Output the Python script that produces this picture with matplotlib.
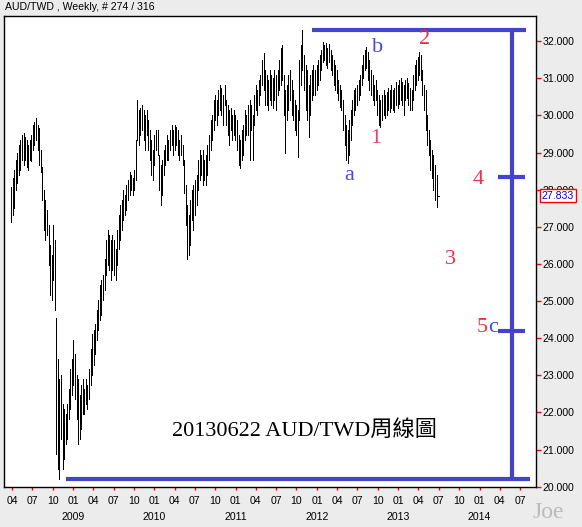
#AUD/TWD weekly bar chart with wave count marks

import pandas as pd
import numpy as np
import matplotlib
matplotlib.use('Agg')
import matplotlib.pyplot as plt
import matplotlib.transforms as mtransforms

# weekly bars, first week ending 2008-03-28, last 2013-06-21
first_week = '2008-03-28'
n_weeks = 274

highs = [
    28.08, 28.32, 28.54, 28.81, 29.00, 29.21, 29.34, 29.48, 29.53, 29.42,
    29.34, 29.21, 29.34, 29.48, 29.75, 29.83, 29.94, 29.75, 29.67, 29.08,
    28.62, 28.00, 27.73, 27.46, 27.06, 26.52, 26.25, 27.06, 26.65, 24.55,
    23.43, 22.89, 23.02, 22.22, 22.08, 21.95, 22.22, 22.62, 23.16, 23.43,
    23.96, 23.56, 23.02, 22.89, 22.48, 22.75, 22.89, 22.62, 22.89, 22.75,
    23.16, 23.70, 24.10, 24.23, 24.37, 24.77, 25.04, 25.44, 25.58, 25.71,
    26.12, 26.65, 26.92, 26.79, 26.65, 26.79, 26.65, 26.39, 26.92, 27.33,
    27.60, 27.73, 28.00, 27.86, 28.14, 28.27, 28.49, 28.40, 28.32, 28.54,
    29.34, 30.42, 30.15, 30.20, 30.28, 30.15, 30.02, 30.15, 29.88, 29.61,
    29.34, 29.08, 29.48, 29.61, 29.61, 28.94, 28.67, 28.81, 29.08, 29.21,
    29.48, 29.34, 29.61, 29.75, 29.61, 29.75, 29.69, 29.61, 29.34, 29.48,
    29.21, 28.81, 28.14, 27.60, 27.33, 27.73, 28.00, 28.14, 28.27, 28.40,
    28.81, 29.08, 28.94, 29.08, 28.81, 28.94, 29.21, 29.48, 29.88, 30.02,
    30.42, 30.55, 30.42, 30.69, 30.82, 30.74, 30.55, 30.82, 30.42, 30.28,
    30.15, 30.20, 30.02, 30.15, 30.02, 29.88, 29.48, 29.34, 29.61, 29.75,
    30.15, 30.02, 30.28, 30.42, 30.28, 30.02, 30.55, 30.82, 30.69, 30.96,
    31.09, 31.50, 31.69, 31.23, 31.09, 30.96, 31.23, 31.09, 31.01, 31.23,
    31.09, 31.23, 31.50, 31.82, 31.90, 31.09, 30.69, 30.82, 31.09, 31.23,
    30.96, 30.69, 30.42, 30.28, 30.15, 31.50, 31.90, 32.30, 31.63, 31.36,
    31.23, 30.82, 31.09, 31.23, 31.36, 31.23, 31.36, 31.50, 31.63, 31.77,
    31.98, 31.90, 31.95, 31.82, 31.93, 31.77, 31.63, 31.50, 31.36, 31.23,
    30.96, 30.82, 30.69, 30.42, 30.02, 29.75, 29.61, 29.88, 30.15, 30.42,
    30.69, 30.74, 30.82, 30.96, 31.09, 31.36, 31.63, 31.77, 31.85, 31.71,
    31.50, 31.23, 31.09, 30.82, 30.96, 30.69, 30.55, 30.42, 30.55, 30.69,
    30.55, 30.64, 30.74, 30.69, 30.82, 30.69, 30.74, 30.90, 30.82, 30.96,
    31.01, 30.90, 30.82, 30.96, 31.01, 30.88, 30.74, 30.69, 31.09, 31.36,
    31.50, 31.58, 31.71, 31.63, 31.23, 30.82, 30.69, 30.02, 29.61, 29.34,
    29.08, 28.94, 28.67, 28.40]

lows = [
    27.14, 27.33, 27.51, 28.00, 28.19, 28.40, 28.54, 28.81, 28.67, 28.81,
    28.62, 28.54, 28.81, 28.76, 29.08, 29.21, 29.34, 29.08, 28.67, 28.49,
    27.73, 26.92, 26.65, 26.79, 25.98, 25.17, 25.04, 25.58, 24.77, 20.87,
    20.47, 20.20, 21.27, 20.47, 20.74, 21.14, 21.27, 21.81, 22.08, 22.48,
    22.75, 22.35, 21.81, 21.14, 21.27, 21.54, 21.95, 21.95, 22.22, 22.08,
    22.35, 22.75, 23.02, 23.29, 23.56, 23.96, 24.23, 24.50, 24.63, 25.04,
    25.31, 25.71, 25.98, 25.85, 25.58, 25.85, 25.71, 25.58, 25.98, 26.39,
    26.65, 26.92, 27.19, 27.33, 27.46, 27.73, 27.86, 28.00, 27.86, 28.00,
    28.27, 29.34, 29.21, 29.48, 29.61, 29.34, 29.08, 29.48, 29.08, 28.81,
    28.40, 28.27, 28.67, 29.08, 28.94, 28.00, 27.60, 27.86, 28.40, 28.67,
    28.81, 28.81, 29.08, 29.21, 28.94, 29.08, 29.21, 28.94, 28.81, 28.94,
    28.67, 27.92, 27.06, 26.12, 26.25, 26.52, 27.19, 26.92, 27.33, 27.60,
    28.00, 28.27, 28.40, 28.14, 28.27, 28.14, 28.40, 28.81, 29.08, 29.34,
    29.61, 29.88, 29.75, 30.02, 30.15, 30.02, 29.75, 30.28, 29.75, 29.48,
    29.21, 29.61, 29.34, 29.48, 29.34, 29.08, 28.67, 28.59, 28.81, 28.94,
    29.34, 29.48, 29.48, 28.81, 29.61, 28.81, 29.75, 30.15, 30.02, 30.28,
    30.55, 30.82, 30.69, 30.28, 30.28, 30.15, 30.42, 30.28, 30.20, 30.42,
    30.15, 30.55, 30.69, 30.82, 30.96, 30.02, 29.00, 29.88, 30.15, 30.42,
    30.02, 29.88, 29.61, 29.48, 28.89, 29.88, 30.82, 31.23, 30.69, 30.15,
    29.88, 29.42, 30.02, 30.42, 30.55, 30.55, 30.69, 30.82, 30.96, 31.23,
    31.44, 31.50, 31.36, 31.28, 31.44, 31.23, 31.09, 30.82, 30.69, 30.61,
    30.42, 30.23, 30.15, 29.61, 29.21, 28.81, 28.73, 28.94, 29.34, 29.75,
    30.02, 30.15, 30.28, 30.42, 30.55, 30.82, 31.01, 31.23, 31.28, 30.96,
    30.69, 30.55, 30.42, 30.28, 30.42, 30.02, 29.75, 29.69, 29.88, 30.02,
    29.94, 30.02, 30.15, 30.10, 30.20, 30.15, 30.10, 30.28, 30.20, 30.31,
    30.42, 30.28, 30.02, 30.42, 30.47, 30.28, 30.15, 30.15, 30.42, 30.69,
    30.82, 30.96, 31.09, 30.96, 30.55, 30.15, 29.61, 29.21, 28.94, 28.54,
    28.32, 28.00, 27.73, 27.54]

last_close = 27.833

# wave lines (price levels and dates)
top_level = 32.29
bottom_level = 20.20
level_4 = 28.35
level_5c = 24.20
top_line_dates = ['2011-12-10', '2014-07-28']
bottom_line_dates = ['2008-11-30', '2014-08-15']
vert_line_date = '2014-05-24'
mark_dates = ['2014-03-24', '2014-07-24']

# wave labels: (text, date, price, colour)
wave_labels = [
    ('a', '2012-05-24', 28.38, '#4848d8'),
    ('b', '2012-10-01', 31.82, '#4848d8'),
    ('1', '2012-09-19', 29.37, '#e8407a'),
    ('2', '2013-04-30', 32.06, '#f03040'),
    ('4', '2013-12-24', 28.27, '#f03040'),
    ('3', '2013-08-21', 26.12, '#f03040'),
]
label_5c_date = '2014-02-07'
label_5c_price = 24.29

dates = pd.date_range(first_week, periods=n_weeks, freq='W-FRI')

W, H = 582, 527
fig = plt.figure(figsize=(W / 100, H / 100), dpi=100, facecolor='#ececec')
ax = fig.add_axes([4 / W, (H - 487) / H, 532 / W, 471 / H])
ax.set_facecolor('white')

ax.vlines(dates, lows, highs, color='black', linewidth=0.6, antialiased=False)
ax.hlines(last_close, dates[-1], dates[-1] + pd.Timedelta(days=9), color='black', linewidth=0.6,
          antialiased=False)

blue = '#4343cc'
lw = 3.0
ax.plot(pd.to_datetime(top_line_dates), [top_level, top_level], color=blue, lw=lw, solid_capstyle='butt')
ax.plot(pd.to_datetime(bottom_line_dates), [bottom_level, bottom_level], color=blue, lw=lw, solid_capstyle='butt')
ax.plot(pd.to_datetime([vert_line_date, vert_line_date]), [bottom_level, top_level], color=blue, lw=lw, solid_capstyle='butt')
ax.plot(pd.to_datetime(mark_dates), [level_4, level_4], color=blue, lw=lw, solid_capstyle='butt')
ax.plot(pd.to_datetime(mark_dates), [level_5c, level_5c], color=blue, lw=lw, solid_capstyle='butt')

serif = 'Liberation Serif'
for txt, d, p, c in wave_labels:
    ax.text(pd.Timestamp(d), p, txt, color=c, fontsize=16, family=serif, ha='center', va='center')
ax.text(pd.Timestamp(label_5c_date), label_5c_price, '5', color='#f03040', fontsize=16, family=serif,
        ha='right', va='center')
ax.text(pd.Timestamp(label_5c_date), label_5c_price, 'c', color='#4848d8', fontsize=16, family=serif,
        ha='left', va='center')

ax.text(pd.Timestamp('2010-03-21'), 21.50, '20130622 AUD/TWD周線圖', fontsize=16,
        family=[serif, 'Noto Sans CJK TC'], color='black', ha='left', va='center')

# axes limits
ax.set_xlim(pd.Timestamp('2008-02-25'), pd.Timestamp('2014-09-11'))
ax.set_ylim(19.99, 32.68)

for s in ax.spines.values():
    s.set_color('black')
    s.set_linewidth(1.0)

# right price axis
ax.yaxis.tick_right()
ax.set_yticks(np.arange(20, 33, 1))
ax.set_yticklabels(['%.3f' % v for v in np.arange(20, 33, 1)])
ax.tick_params(axis='y', direction='out', length=3.5, width=1, color='red', labelcolor='black',
               labelsize=7.6, pad=1)

# month ticks every quarter
qticks = pd.date_range('2008-04-01', '2014-07-01', freq='QS-JAN')
ax.set_xticks(qticks)
ax.set_xticklabels([d.strftime('%m') for d in qticks])
ax.tick_params(axis='x', direction='out', length=2.5, width=1, color='red', labelcolor='black',
               labelsize=7.6, pad=4)

for lab in ax.get_xticklabels() + ax.get_yticklabels():
    lab.set_family('Liberation Sans')

# year labels under january ticks
xtrans = mtransforms.blended_transform_factory(ax.transData, ax.transAxes)
for yr in range(2009, 2015):
    ax.text(pd.Timestamp('%d-01-01' % yr), -30 / 471, str(yr), transform=xtrans,
            ha='center', va='center', fontsize=7.6, family='Liberation Sans')

# last price box on the right scale
ytrans = mtransforms.blended_transform_factory(ax.transAxes, ax.transData)
ax.text(1 + 6 / 532, last_close, '%.3f' % last_close, transform=ytrans, ha='left', va='center',
        color='blue', fontsize=7.6, family='Liberation Sans', clip_on=False, zorder=5,
        bbox=dict(boxstyle='square,pad=0.15', fc='white', ec='red', lw=1))

fig.text(5 / W, 1 - 7.5 / H, 'AUD/TWD , Weekly, # 274 / 316', fontsize=7.6,
         family='Liberation Sans', ha='left', va='center')
fig.text(548 / W, 1 - 512 / H, 'Joe', fontsize=17, family=serif, color='#bbbbbb',
         ha='center', va='center')

plt.savefig('out.png', dpi=100, facecolor=fig.get_facecolor())
